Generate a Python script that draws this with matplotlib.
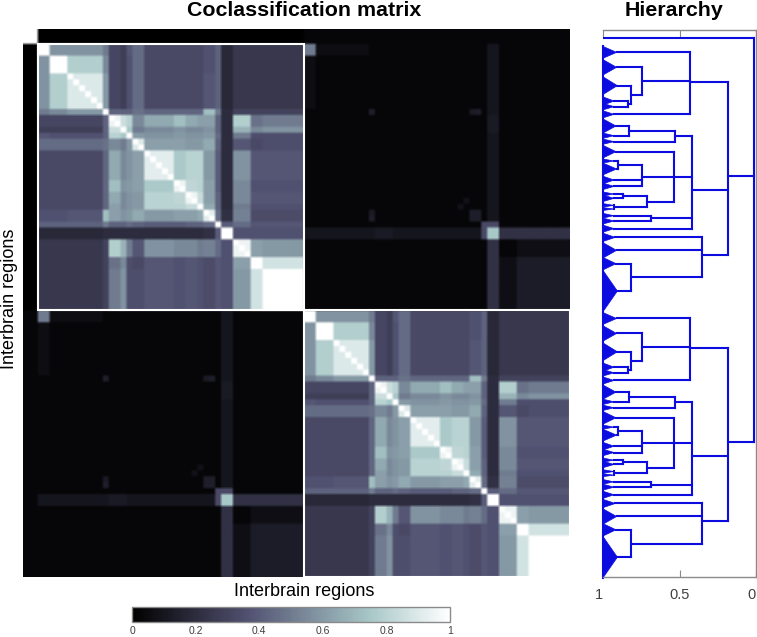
import numpy as np
import matplotlib
matplotlib.use("Agg")
import matplotlib.pyplot as plt
from matplotlib.patches import Rectangle
from matplotlib.transforms import ScaledTranslation

plt.rcParams['font.family'] = ['Liberation Sans', 'DejaVu Sans']

# cells per block inside one brain module (45 regions)
seg_cells = [2, 3, 6, 1, 2, 1, 1, 2, 5, 2, 2, 1, 2, 1, 2, 3, 2, 7]

# coclassification levels between blocks, upper triangle only
module_levels = [
    [1.0, .58, .58, .50, .32, .28, .38, .45, .33, .33, .33, .33, .36, .42, .18, .25, .25, .25],
    [0, 1.0, .78, .55, .32, .28, .36, .45, .33, .33, .33, .33, .36, .42, .18, .25, .25, .25],
    [0, 0, .90, .60, .32, .28, .36, .45, .33, .33, .33, .33, .38, .42, .18, .25, .25, .25],
    [0, 0, 0, 1.0, .42, .42, .42, .47, .43, .43, .43, .43, .72, .50, .20, .30, .30, .30],
    [0, 0, 0, 0, .95, .85, .80, .55, .65, .72, .65, .62, .62, .42, .20, .78, .47, .50],
    [0, 0, 0, 0, 0, .92, .75, .50, .55, .58, .55, .55, .58, .42, .20, .68, .55, .58],
    [0, 0, 0, 0, 0, 0, .85, .60, .58, .60, .58, .58, .60, .45, .20, .50, .35, .35],
    [0, 0, 0, 0, 0, 0, 0, .90, .62, .62, .60, .60, .65, .42, .20, .38, .33, .35],
    [0, 0, 0, 0, 0, 0, 0, 0, .92, .76, .80, .80, .60, .40, .20, .58, .38, .38],
    [0, 0, 0, 0, 0, 0, 0, 0, 0, .95, .82, .80, .62, .40, .20, .55, .36, .36],
    [0, 0, 0, 0, 0, 0, 0, 0, 0, 0, .95, .84, .62, .42, .20, .55, .38, .38],
    [0, 0, 0, 0, 0, 0, 0, 0, 0, 0, 0, .98, .65, .42, .20, .50, .36, .36],
    [0, 0, 0, 0, 0, 0, 0, 0, 0, 0, 0, 0, .92, .45, .22, .52, .34, .34],
    [0, 0, 0, 0, 0, 0, 0, 0, 0, 0, 0, 0, 0, 1.0, .40, .45, .38, .38],
    [0, 0, 0, 0, 0, 0, 0, 0, 0, 0, 0, 0, 0, 0, 1.0, .36, .36, .36],
    [0, 0, 0, 0, 0, 0, 0, 0, 0, 0, 0, 0, 0, 0, 0, .95, .62, .60],
    [0, 0, 0, 0, 0, 0, 0, 0, 0, 0, 0, 0, 0, 0, 0, 0, 1.0, .87],
    [0, 0, 0, 0, 0, 0, 0, 0, 0, 0, 0, 0, 0, 0, 0, 0, 0, 1.0],
]

# levels between the two brains: background, then block pairs
cross_base = .03
cross_seg_levels = [
    (0, 0, .50), (0, 1, .06), (0, 2, .06), (14, 14, .75), (13, 14, .33), (13, 13, .33),
    (14, 0, .10), (14, 1, .10), (14, 2, .10), (14, 3, .10), (14, 4, .12), (14, 5, .12),
    (14, 6, .10), (14, 7, .10), (14, 8, .10), (14, 9, .10), (14, 10, .10), (14, 11, .10),
    (14, 12, .10),
    (14, 15, .22), (14, 16, .22), (14, 17, .22), (15, 16, .07), (15, 17, .07),
    (16, 16, .13), (16, 17, .13), (17, 17, .13),
]
# small spots between the brains, by region index
cross_spots = [(11, 11, .14), (11, 28, .12), (11, 29, .14), (28, 28, .14), (28, 29, .14),
               (29, 29, .14), (26, 27, .08)]
lead_level_first = .005
lead_level_second = .03

# hierarchy, one brain: leaf name, position, half height, tip distance
leaf_names = ['t%d' % i for i in range(1, 26)]
leaf_y = [3.95, 6.48, 9.58, 12.18, 13.13, 14.43, 16.40, 18.04, 19.05, 20.74, 22.32, 23.67, 25.54,
          26.61, 27.90, 28.63, 29.82, 30.44, 31.57, 32.47, 33.76, 35.23, 37.43, 39.68, 44.31]
leaf_half = [1.0, 1.3, 1.5, .7, .55, .6, 1.2, .45, .45, 1.07, .35, 1.0, .65,
             .55, .35, .55, .3, .25, .4, .5, .6, .7, 1.3, 1.05, 3.5]
leaf_tip = [.911, .911, .906, .928, .928, .928, .915, .928, .928, .915, .93, .911, .928,
            .928, .93, .928, .93, .93, .93, .928, .928, .92, .911, .915, .906]
# merges: name, children, distance, position of the outgoing line
merges = [
    ('a', ['t4', 't5'], .839, 12.66),
    ('b', ['t3', 'a'], .819, 11.10),
    ('c', ['t2', 'b'], .747, 8.79),
    ('d', ['t1', 'c', 't6'], .431, 9.02),
    ('e', ['t7', 't8'], .83, 17.22),
    ('f', ['e', 't9'], .529, 18.15),
    ('g', ['t11', 't12'], .90, 23.0),
    ('h', ['g', 't13', 't14'], .747, 24.97),
    ('i', ['t15', 't16'], .867, 28.24),
    ('j', ['t17', 't18'], .928, 30.1),
    ('k', ['i', 'j'], .71, 29.2),
    ('l', ['t10', 'k', 'h'], .533, 24.97),
    ('n', ['t19', 't20'], .686, 32.02),
    ('p', ['f', 'l', 'n', 't21'], .42, 27.23),
    ('q', ['t24', 't25'], .819, 42.0),
    ('r', ['t22', 't23', 'q'], .35, 38.2),
    ('s', ['d', 'p', 'r'], .181, 24.8),
]
first_leaf_y = 1.5
root_dist = .013
module_size = 45

hier_ticks = [1, .5, 0]
hier_tick_labels = ['1', '0.5', '0']
cbar_ticks = [0, .2, .4, .6, .8, 1]
cbar_tick_labels = ['0', '0.2', '0.4', '0.6', '0.8', '1']

W, H = 757, 637
blue = '#0c0ce0'
gray = '#8a8a8a'
link_width = 1.5


def axes_px(x0, y0, x1, y1):
    return [x0 / W, 1 - y1 / H, (x1 - x0) / W, (y1 - y0) / H]


# build matrix on a grid of half regions
levels = np.array(module_levels, dtype=float)
levels = levels + np.triu(levels, 1).T
labels = np.repeat(np.arange(len(seg_cells)), seg_cells)
inside = levels[labels][:, labels]
np.fill_diagonal(inside, 1)

cross_levels = np.full(levels.shape, cross_base)
for i, j, v in cross_seg_levels:
    cross_levels[i, j] = v
    cross_levels[j, i] = v
cross = cross_levels[labels][:, labels]
for i, j, v in cross_spots:
    cross[i, j] = v
    cross[j, i] = v

half_module = np.block([[inside, cross], [cross, inside]]).repeat(2, axis=0).repeat(2, axis=1)
lead = 5
mat = np.ones((lead + half_module.shape[0], lead + half_module.shape[0]))
mat[lead:, lead:] = half_module
mat[:lead, lead:lead + 90] = lead_level_first
mat[lead:lead + 90, :lead] = lead_level_first
mat[:lead, lead + 90:] = lead_level_second
mat[lead + 90:, :lead] = lead_level_second

fig = plt.figure(figsize=(W / 100, H / 100), dpi=100)

ax = fig.add_axes(axes_px(23, 29, 570, 577))
im = ax.imshow(mat, cmap='bone', vmin=0, vmax=1, aspect='auto', interpolation='bilinear',
               extent=[0, mat.shape[0] / 2, mat.shape[0] / 2, 0])
ax.set_xticks([])
ax.set_yticks([])
for s in ax.spines.values():
    s.set_visible(False)
ax.add_patch(Rectangle((2.5, 2.5), module_size, module_size, fill=False, ec='white', lw=1.5))
ax.add_patch(Rectangle((2.5 + module_size, 2.5 + module_size), module_size, module_size,
                       fill=False, ec='white', lw=1.5))

fig.text(304 / W, 1 - 11 / H, 'Coclassification matrix', ha='center', va='center',
         fontsize=15.4, fontweight='bold')
fig.text(304 / W, 1 - 592 / H, 'Interbrain regions', ha='center', va='center', fontsize=13)
fig.text(10 / W, 1 - 299 / H, 'Interbrain regions', ha='center', va='center', fontsize=13,
         rotation=90)
fig.text(673.5 / W, 1 - 11 / H, 'Hierarchy', ha='center', va='center', fontsize=15.4,
         fontweight='bold')

# colorbar
cax = fig.add_axes(axes_px(132, 607, 450, 622))
cb = fig.colorbar(im, cax=cax, orientation='horizontal')
cb.set_ticks(cbar_ticks)
cb.set_ticklabels(cbar_tick_labels)
cb.ax.tick_params(length=0, labelsize=7.5, labelcolor='#404040', pad=3)
cb.outline.set_edgecolor(gray)
cb.outline.set_linewidth(1)

# hierarchy
hx = fig.add_axes(axes_px(603, 30, 756, 577))
hx.set_xlim(1, 0)
hx.set_ylim(92.66, .17)


def draw_link(d0, d1, y):
    hx.plot([d0, d1], [y, y], color=blue, lw=link_width, solid_capstyle='projecting')


tops = []
for offset in (0, module_size):
    pos = {}
    for name, y, h, tip in zip(leaf_names, leaf_y, leaf_half, leaf_tip):
        hx.fill([1, tip, 1], [y + offset - h, y + offset, y + offset + h], color=blue, lw=.5)
        pos[name] = (tip, y + offset)
    hx.plot([1, 1], [leaf_y[0] + offset - leaf_half[0], leaf_y[-1] + offset + leaf_half[-1]],
            color=blue, lw=link_width, clip_on=False)
    for name, kids, dist, out_y in merges:
        ys = [pos[k][1] for k in kids]
        for k in kids:
            draw_link(pos[k][0], dist, pos[k][1])
        hx.plot([dist, dist], [min(ys), max(ys)], color=blue, lw=link_width,
                solid_capstyle='projecting')
        pos[name] = (dist, out_y + offset)
    tops.append(pos['s'])

draw_link(1, root_dist, first_leaf_y)
for d, y in tops:
    draw_link(d, root_dist, y)
hx.plot([root_dist, root_dist], [first_leaf_y, tops[1][1]], color=blue, lw=link_width)

hx.set_xticks(hier_ticks)
hx.set_xticklabels(hier_tick_labels)
hx.set_yticks([])
hx.tick_params(axis='x', direction='in', top=True, length=5, color=gray, labelsize=10.5,
               labelcolor='#404040', pad=8)
for s in hx.spines.values():
    s.set_color(gray)
    s.set_linewidth(1)
hx.spines['left'].set_visible(False)
# the outer labels sit a little to the left of their ticks
for lab in (hx.get_xticklabels()[0], hx.get_xticklabels()[2]):
    lab.set_transform(lab.get_transform() + ScaledTranslation(-4 / 100, 0, fig.dpi_scale_trans))

fig.savefig('out.png', dpi=100)
